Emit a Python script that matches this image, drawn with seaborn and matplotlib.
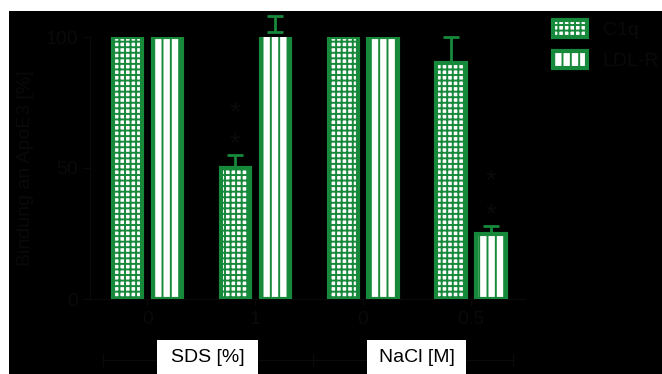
import matplotlib
matplotlib.use("Agg")
import matplotlib.pyplot as plt
import seaborn as sns
import pandas as pd
import numpy as np
from matplotlib.patches import Rectangle
from matplotlib.lines import Line2D

# ---- data ----
groups = ["SDS 0", "SDS 1", "NaCl 0", "NaCl 0.5"]
tick_labels = ["0", "1", "0", "0.5"]
series = ["C1q", "LDL-R"]
c1q_values = [100, 50, 100, 90]
ldl_values = [100, 102, 100, 25]
c1q_err = [0, 5, 0, 10]
ldl_err = [0, 6, 0, 3]
group_titles = ["SDS [%]", "NaCl [M]"]
y_ticks = [0, 50, 100]
y_label = "Bindung an ApoE3 [%]"

df = pd.DataFrame({
    "group": groups * 2,
    "series": [series[0]] * 4 + [series[1]] * 4,
    "value": c1q_values + ldl_values,
})

GREEN = "#17893a"
DARK = "#0a0a0a"
sns.set_style("ticks")
plt.rcParams["font.family"] = ["Liberation Sans", "DejaVu Sans"]
plt.rcParams["hatch.linewidth"] = 1.4

fig = plt.figure(figsize=(6.62, 3.74), dpi=100, facecolor="white")
W, H = 662, 374
bg = Rectangle((9 / W, 0), 1 - 9 / W, 1 - 11 / H, transform=fig.transFigure,
               facecolor="black", edgecolor="none", zorder=-10)
fig.patches.append(bg)

ax = fig.add_axes([90 / W, 1 - 299 / H, (525 - 90) / W, (299 - 37) / H])
ax.set_zorder(1)
ax.patch.set_alpha(0)

sns.barplot(data=df, x="group", y="value", hue="series", order=groups, hue_order=series,
            palette=["white", "white"], width=0.74, gap=0.27, errorbar=None, ax=ax,
            legend=False, zorder=3)

hatches = ["+++", "||"]
for cont, h in zip(ax.containers, hatches):
    for bar in cont:
        bar.set_facecolor("white")
        bar.set_edgecolor(GREEN)
        bar.set_hatch(h)
        bar.set_linewidth(3.0)

errs = [c1q_err, ldl_err]
vals = [c1q_values, ldl_values]
for cont, e, v in zip(ax.containers, errs, vals):
    xs = [b.get_x() + b.get_width() / 2 for b in cont]
    for x, val, er in zip(xs, v, e):
        if er > 0:
            ax.errorbar([x], [val], yerr=[[0], [er]], fmt="none", ecolor=GREEN,
                        elinewidth=2, capsize=5.8, capthick=2, clip_on=False, zorder=2)

# significance stars
star_pos = [(0, 1, 59, 71), (1, 3, 32, 45)]
for s, gi, y1, y2 in star_pos:
    b = ax.containers[s][gi]
    xc = b.get_x() + b.get_width() / 2
    for yy in (y1, y2):
        ax.text(xc, yy, "*", ha="center", va="center", fontsize=20, color=DARK)

ax.set_ylim(0, 100)
ax.set_xlim(-0.53, 3.5)
ax.set_yticks(y_ticks)
ax.set_xticks(range(len(groups)))
ax.set_xticklabels(tick_labels)
ax.set_xlabel("")
ax.set_ylabel(y_label, fontsize=14, color=DARK, labelpad=8)
ax.tick_params(colors=DARK, labelcolor=DARK, labelsize=14, length=5, width=1)
for sp in ["top", "right"]:
    ax.spines[sp].set_visible(False)
for sp in ["left", "bottom"]:
    ax.spines[sp].set_color(DARK)

# legend
handles = [Rectangle((0, 0), 1, 1, facecolor="white", edgecolor=GREEN, hatch=h, linewidth=3)
           for h in hatches]
fig.legend(handles, series, loc="upper left", bbox_to_anchor=(553 / W, 1 - 20 / H),
           frameon=False, fontsize=14, handlelength=1.75, handleheight=0.95,
           labelspacing=0.6, borderpad=0, borderaxespad=0, handletextpad=0.8,
           labelcolor=DARK)

# secondary group axis
fig.lines.append(Line2D([103 / W, 513 / W], [1 - 360 / H] * 2, transform=fig.transFigure,
                        color=DARK, lw=1))
for xp in (103, 313, 513):
    fig.lines.append(Line2D([xp / W] * 2, [1 - 354 / H, 1 - 366 / H],
                            transform=fig.transFigure, color=DARK, lw=1))
for (x0, x1), t in zip([(157, 258), (367, 466)], group_titles):
    fig.patches.append(Rectangle((x0 / W, 0), (x1 - x0) / W, 34 / H, transform=fig.transFigure,
                                 facecolor="white", edgecolor="none", zorder=2))
    fig.text((x0 + x1) / 2 / W, 17 / H, t, ha="center", va="center", fontsize=14,
             color="black", zorder=3)

fig.savefig("out.png", dpi=100, facecolor=fig.get_facecolor())
